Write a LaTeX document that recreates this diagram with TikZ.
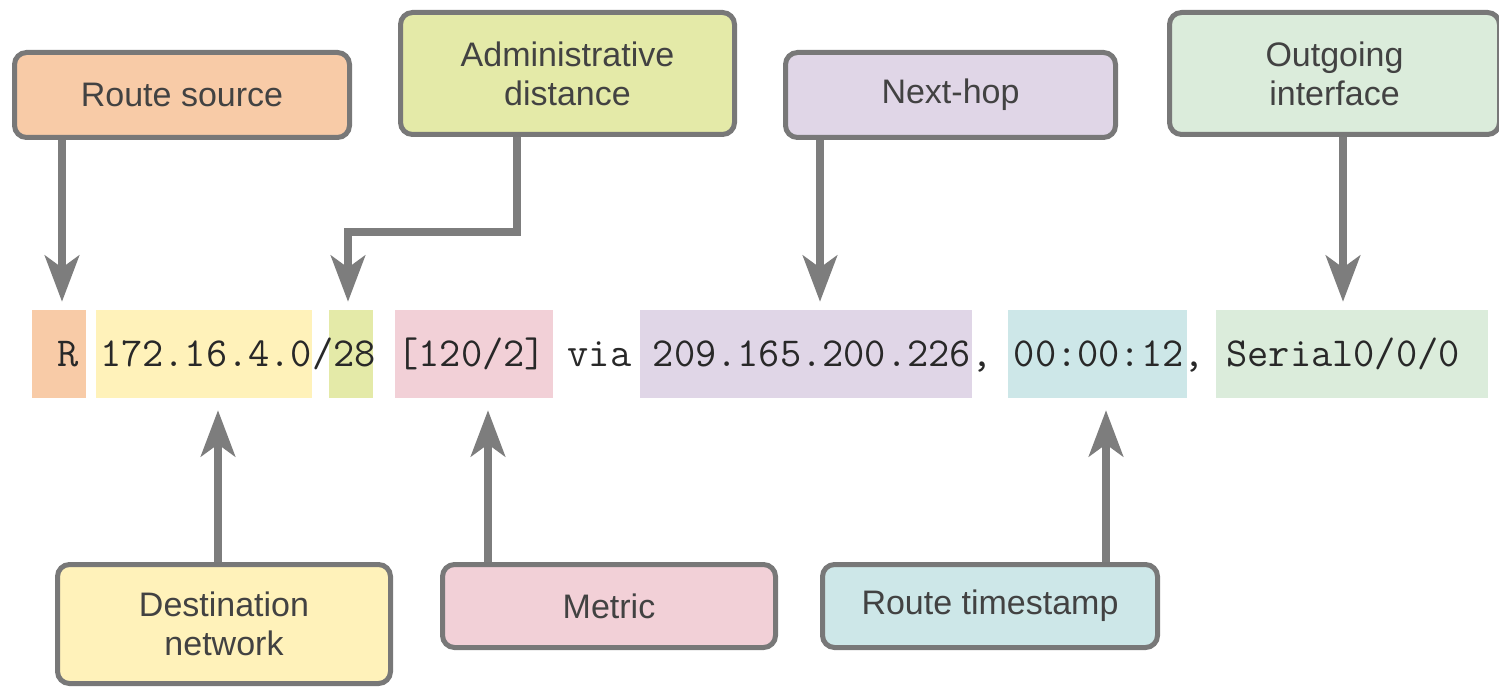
\documentclass[tikz,border=0pt]{standalone}
\usepackage{fontspec}
\setmainfont{Liberation Sans}
\usetikzlibrary{arrows.meta}

\begin{document}
\begin{tikzpicture}[x=1pt,y=-1pt,
    callout/.style={draw=boxgray, line width=5pt, rounded corners=12pt, text=labeltext,
      align=center, inner sep=0pt, font=\fontsize{34}{39}\selectfont},
    field/.style={minimum height=88pt, inner sep=0pt},
    arr/.style={draw=arrowgray, line width=8.5pt,
      -{Stealth[length=46pt,width=34pt,inset=12pt]}}]
        % Define colours
        \definecolor{boxgray}{RGB}{120,120,120}
        \definecolor{arrowgray}{RGB}{125,125,125}
        \definecolor{labeltext}{RGB}{66,66,66}
        \definecolor{codetext}{RGB}{40,40,40}
        \definecolor{srcpeach}{RGB}{248,203,167}
        \definecolor{netyellow}{RGB}{255,242,186}
        \definecolor{adgreen}{RGB}{228,234,168}
        \definecolor{metpink}{RGB}{242,208,215}
        \definecolor{hoplilac}{RGB}{224,214,231}
        \definecolor{tsmint}{RGB}{205,231,232}
        \definecolor{ifgreen}{RGB}{219,236,219}
        \useasboundingbox (0,0) rectangle (1499,687);

        % Coloured fields of the route entry
        \node[field, fill=srcpeach, minimum width=54pt] (r) at (59,354) {};
        \node[field, fill=netyellow, minimum width=216pt] (dn) at (204,354) {};
        \node[field, fill=adgreen, minimum width=44pt] (ad) at (351,354) {};
        \node[field, fill=metpink, minimum width=158pt] (mt) at (474,354) {};
        \node[field, fill=hoplilac, minimum width=332pt] (nh) at (806,354) {};
        \node[field, fill=tsmint, minimum width=179pt] (ts) at (1097.5,354) {};
        \node[field, fill=ifgreen, minimum width=272pt] (oi) at (1352,354) {};
        % The route entry itself (fixed width spaces)
        \node[anchor=base west, inner sep=0pt, text=codetext,
          font=\ttfamily\fontsize{41.2}{46}\selectfont] (entry) at (57,366)
          {\frenchspacing\spaceskip=0.525em\relax
           R 172.16.4.0/28 [120/2] via 209.165.200.226, 00:00:12, Serial0/0/0};

        % Labels above
        \node[callout, fill=srcpeach, minimum width=335pt, minimum height=85pt] (src) at (182,95) {Route source};
        \node[callout, fill=adgreen, minimum width=334pt, minimum height=122pt] (adm) at (567.5,73.5) {Administrative\\distance};
        \node[callout, fill=hoplilac, minimum width=330pt, minimum height=85pt] (hop) at (950.5,95) {Next-hop};
        \node[callout, fill=ifgreen, minimum width=330pt, minimum height=122pt] (out) at (1334.5,73.5) {Outgoing\\interface};
        % Labels below
        \node[callout, fill=netyellow, minimum width=333pt, minimum height=119pt] (dst) at (224,624) {Destination\\network};
        \node[callout, fill=metpink, minimum width=333pt, minimum height=83pt] (met) at (609,606) {Metric};
        \node[callout, fill=tsmint, minimum width=335pt, minimum height=83pt] (tsp) at (990,606) {Route timestamp};

        % Arrows down to the entry
        \draw[arr, shorten >=8pt] ([xshift=-120pt]src.south) -- ([xshift=3pt]r.north);
        \draw[arr, shorten >=8pt] ([xshift=-50.5pt]adm.south) |- ([xshift=-3pt,yshift=78pt]ad.north) -- ([xshift=-3pt]ad.north);
        \draw[arr, shorten >=8pt] ([xshift=-130.5pt]hop.south) -- ([xshift=14pt]nh.north);
        \draw[arr, shorten >=8pt] ([xshift=8.5pt]out.south) -- ([xshift=-9pt]oi.north);
        % Arrows up to the entry
        \draw[arr, shorten >=12pt] ([xshift=-6pt]dst.north) -- ([xshift=14pt]dn.south);
        \draw[arr, shorten >=12pt] ([xshift=-121pt]met.north) -- ([xshift=14pt]mt.south);
        \draw[arr, shorten >=12pt] ([xshift=116pt]tsp.north) -- ([xshift=8.5pt]ts.south);
\end{tikzpicture}
\end{document}
